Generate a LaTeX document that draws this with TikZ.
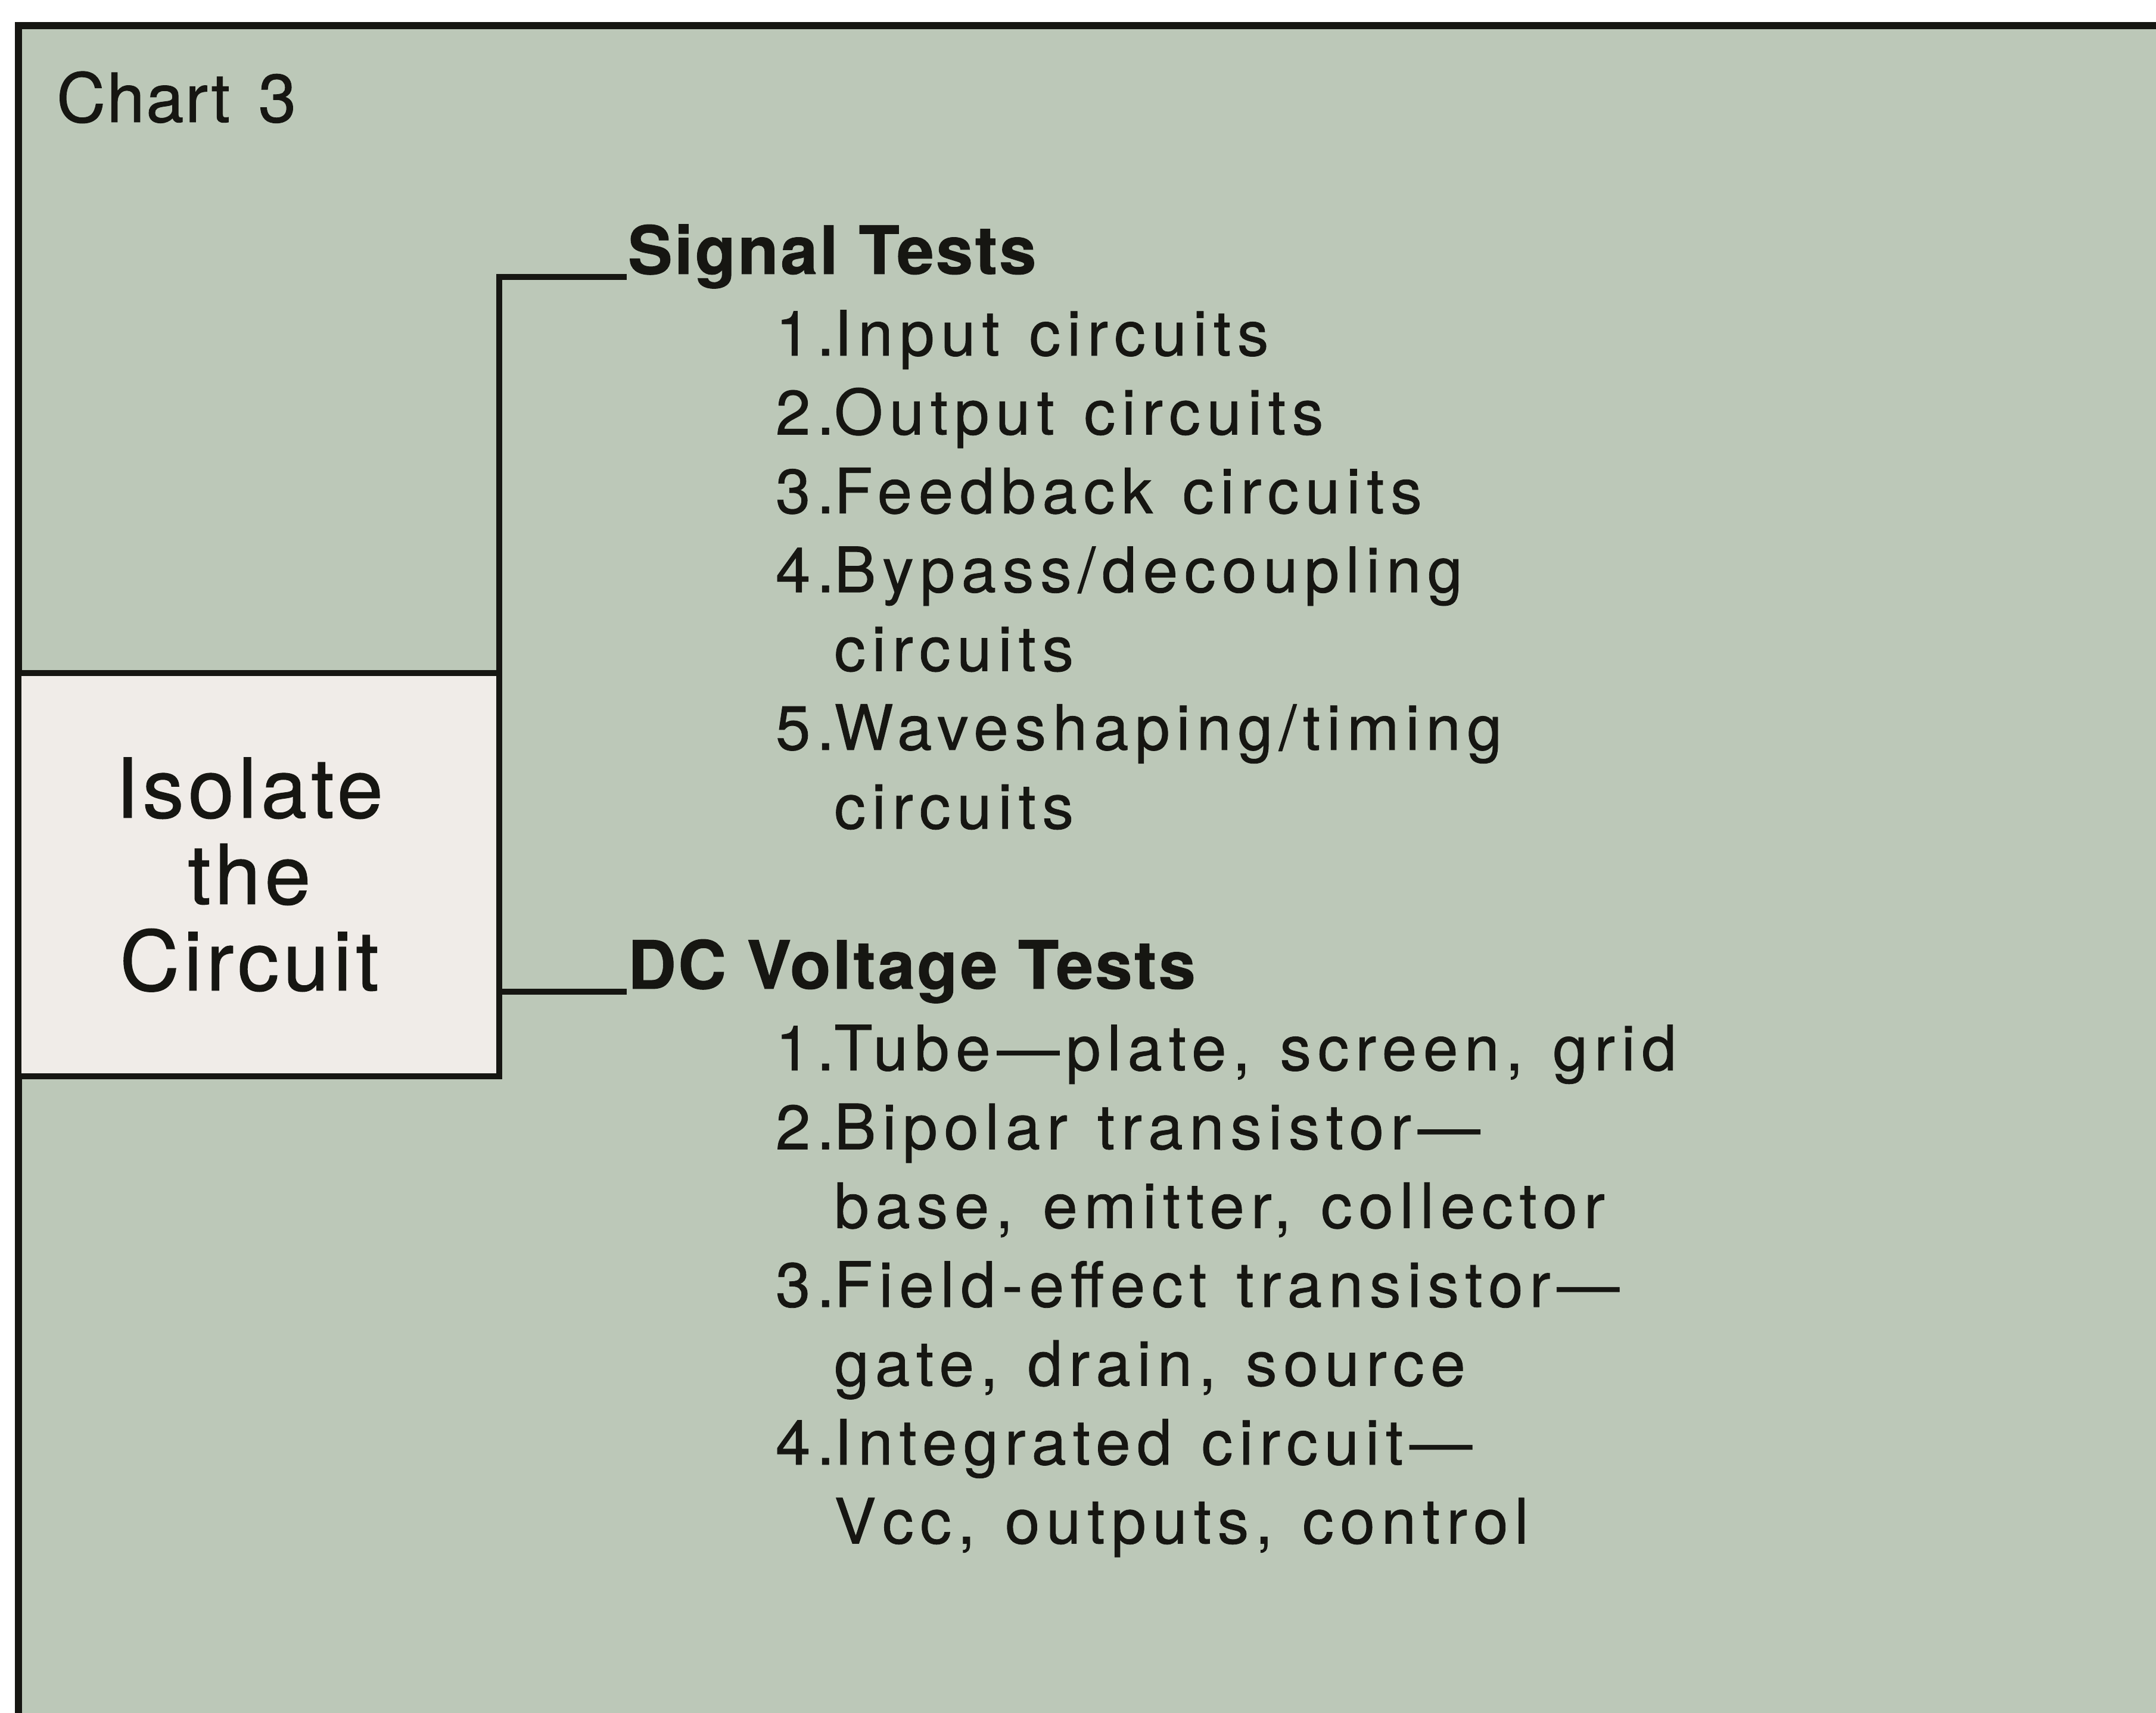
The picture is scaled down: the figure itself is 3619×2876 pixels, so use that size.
\documentclass[tikz,border=0pt]{standalone}
\usepackage{fontspec}
\setmainfont{TeX Gyre Heros}
\newfontfamily\chartfont[LetterSpace=2,WordSpace=1.4,FakeBold=0.8]{TeX Gyre Heros}
\newfontfamily\headfont[LetterSpace=3,FakeBold=0.8]{TeX Gyre Heros}
\newfontfamily\itemfont[LetterSpace=10.3,WordSpace=1.25,FakeBold=0.8]{TeX Gyre Heros}
\newfontfamily\boxfont[LetterSpace=5,FakeBold=0.8]{TeX Gyre Heros}
\usepackage{tikz}
\usetikzlibrary{positioning}
\definecolor{chartbg}{RGB}{188,200,184}
\definecolor{boxfill}{RGB}{240,236,232}
\definecolor{ink}{RGB}{22,22,18}

\begin{document}
\begin{tikzpicture}[
  x=0.1pt,y=-0.1pt,
  node distance=13.7pt and 24.8pt,
  title/.style={anchor=base west,inner sep=0pt,text=ink,
                font=\chartfont\fontsize{11.4}{13}\selectfont},
  head/.style={anchor=base west,inner sep=0pt,text=ink,
               font=\headfont\fontsize{11.2}{13}\selectfont\bfseries},
  items/.style={inner sep=0pt,text=ink,
                font=\itemfont\fontsize{10.5}{13.24}\selectfont},
  isolate/.style={draw=ink,line width=1pt,fill=boxfill,
                  minimum width=80.7pt,minimum height=67.7pt,inner sep=0pt,outer sep=0pt},
  boxtext/.style={text=ink,align=center,inner sep=0pt,
                  font=\boxfont\fontsize{13.9}{14.5}\selectfont},
  link/.style={draw=ink,line width=1pt}
]
\useasboundingbox (0,0) rectangle (3619,2876);
\fill[chartbg] (31,43) rectangle (3619,2876);
\draw[ink,line width=1.2pt] (31,2876) -- (31,43) -- (3619,43);
\node[title] (chart) at (93,205) {Chart 3};
\node[isolate,anchor=north west] (box) at (31,1130) {};
\node[boxtext] (boxlabel) at ([xshift=-1.6pt]box.center) {Isolate\\the\\Circuit};
\node[head] (sig) at (1052,460) {Signal Tests};
\node[items,below right=of sig.base west,anchor=base west] (siglist) {%
  \begin{tabular}[t]{@{}l@{}l@{}}
  1.&Input circuits\\
  2.&Output circuits\\
  3.&Feedback circuits\\
  4.&Bypass/decoupling\\
    &circuits\\
  5.&Waveshaping/timing\\
    &circuits
  \end{tabular}};
\node[head] (dc) at (1052,1660) {DC Voltage Tests};
\node[items,below right=of dc.base west,anchor=base west] (dclist) {%
  \begin{tabular}[t]{@{}l@{}l@{}}
  1.&Tube—plate, screen, grid\\
  2.&Bipolar transistor—\\
    &base, emitter, collector\\
  3.&Field-effect transistor—\\
    &gate, drain, source\\
  4.&Integrated circuit—\\
    &Vcc, outputs, control
  \end{tabular}};
\coordinate (sigend) at ([yshift=-0.5pt]sig.base west);
\coordinate (dcend) at ([yshift=-0.5pt]dc.base west);
\draw[link] (box.north east) |- (sigend);
\draw[link] (dcend -| box.east) -- (dcend);
\end{tikzpicture}
\end{document}
